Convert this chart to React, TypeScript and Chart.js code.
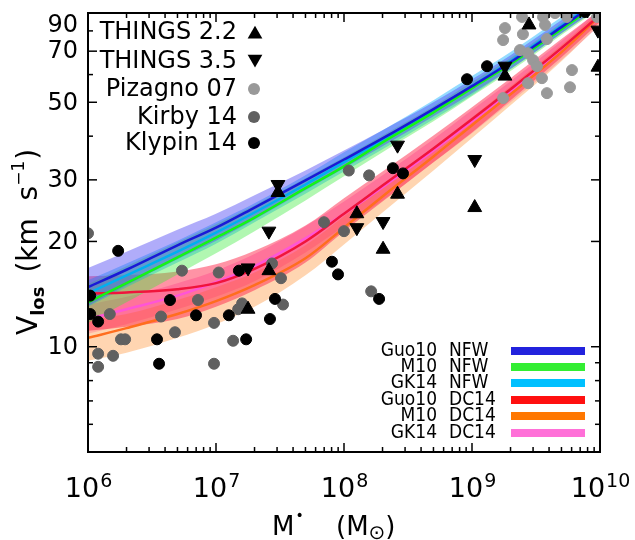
import { useEffect, useRef } from "react";
import { Chart, registerables } from "chart.js";
Chart.register(...registerables);

// ---------- model grid (stellar mass, Msun) ----------
const massGrid = [1e6, 2e6, 5e6, 1e7, 2e7, 5e7, 1e8, 2e8, 5e8, 1e9, 2e9, 5e9, 1e10];

// Guo10 NFW
const guoNfwMid = [14.8, 16.6, 19.5, 21.9, 25.0, 29.9, 34.3, 39.4, 47.8, 55.6, 65.1, 82.0, 98.0];
const guoNfwHi = [16.8, 18.7, 21.6, 24.0, 27.1, 31.9, 36.4, 41.6, 50.0, 58.2, 68.2, 85.9, 102.7];
const guoNfwLo = [13.1, 15.0, 17.8, 20.1, 23.1, 28.0, 32.4, 37.4, 45.6, 53.1, 62.2, 78.8, 93.6];
// M10 NFW
const m10NfwMid = [13.4, 15.2, 18.0, 20.5, 23.4, 28.4, 32.8, 38.4, 46.8, 54.9, 64.3, 80.9, 96.8];
const m10NfwHi = [15.1, 17.0, 19.9, 22.4, 25.4, 30.3, 34.8, 40.2, 48.7, 57.1, 66.9, 84.2, 100.7];
const m10NfwLo = [11.7, 13.4, 16.1, 18.5, 21.4, 26.2, 30.7, 36.0, 44.1, 52.0, 61.4, 77.8, 93.0];
// GK14 NFW
const gkNfwMid = [14.2, 16.0, 18.7, 21.2, 24.2, 29.1, 33.7, 38.9, 47.5, 55.6, 65.5, 82.6, 98.7];
const gkNfwHi = [15.5, 17.3, 20.1, 22.7, 25.7, 30.9, 36.0, 41.6, 50.7, 59.4, 69.6, 87.6, 104.0];
const gkNfwLo = [13.0, 14.8, 17.4, 19.7, 22.7, 27.4, 31.7, 36.7, 44.7, 52.4, 62.2, 78.8, 94.2];
// Guo10 DC14
const guoDcMid = [14.2, 14.3, 14.6, 15.2, 16.7, 20.0, 24.0, 28.9, 36.9, 44.7, 54.5, 71.4, 88.8];
const guoDcHi = [15.9, 16.0, 16.4, 17.2, 18.8, 22.2, 26.6, 31.7, 40.2, 48.4, 58.6, 75.8, 91.8];
const guoDcLo = [11.1, 11.4, 12.0, 13.0, 14.5, 17.4, 21.4, 26.0, 33.7, 41.0, 50.7, 67.3, 84.8];
// M10 DC14
const m10DcMid = [10.6, 11.3, 12.4, 13.5, 15.0, 17.9, 21.9, 26.9, 35.0, 43.0, 52.7, 69.6, 88.2];
const m10DcHi = [11.9, 12.4, 13.6, 14.8, 16.3, 19.5, 23.6, 28.6, 37.2, 45.3, 55.6, 72.9, 91.2];
const m10DcLo = [9.12, 9.61, 10.6, 11.6, 13.0, 16.0, 19.6, 24.2, 31.9, 39.5, 49.0, 65.5, 83.7];
// GK14 DC14
const gkDcMid = [12.0, 12.8, 14.0, 15.3, 17.0, 20.4, 24.0, 28.6, 36.4, 44.1, 53.8, 70.5, 87.6];
const gkDcHi = [13.2, 13.9, 15.2, 16.5, 18.4, 22.1, 26.0, 30.9, 39.2, 47.5, 57.4, 74.8, 92.4];
const gkDcLo = [10.9, 11.6, 12.8, 13.9, 15.4, 18.6, 22.1, 26.2, 33.7, 40.8, 50.0, 66.0, 83.2];

// ---------- observed galaxies ----------
const things22Mass = [1.78e7, 2.59e7, 3.05e7, 1.26e8, 2.02e8, 2.62e8, 1.05e9, 1.81e9, 2.79e9, 9.64e9];
const things22V = [12.8, 16.5, 27.6, 24.0, 19.0, 27.3, 25.0, 59.4, 83.2, 63.0];
const things35Mass = [1.78e7, 2.59e7, 3.05e7, 1.26e8, 2.02e8, 2.62e8, 1.05e9, 1.81e9, 9.64e9];
const things35V = [16.8, 21.4, 29.1, 21.9, 22.8, 37.7, 34.3, 63.4, 80.4];
const pizagnoMass = [1.75e9, 1.75e9, 1.81e9, 2.37e9, 2.46e9, 2.50e9, 2.74e9, 2.74e9, 3.0e9, 3.22e9, 3.52e9, 3.59e9, 3.72e9, 3.85e9, 3.85e9, 4.45e9, 5.52e9, 5.83e9, 6.04e9, 9.48e9];
const pizagnoV = [51.4, 75.3, 81.5, 70.5, 87.7, 78.3, 69.1, 56.7, 66.0, 63.4, 58.6, 87.7, 83.2, 75.8, 53.1, 90.0, 87.7, 55.2, 61.8, 87.7];
const kirbyMass = [1.0e6, 1.2e6, 1.2e6, 1.48e6, 1.57e6, 1.81e6, 1.95e6, 3.72e6, 4.78e6, 5.42e6, 7.23e6, 9.65e6, 9.65e6, 1.05e7, 1.36e7, 1.49e7, 1.6e7, 2.74e7, 3.22e7, 3.34e7, 6.98e7, 1.0e8, 1.09e8, 1.57e8, 1.63e8];
const kirbyV = [21.1, 9.55, 8.76, 12.4, 9.42, 10.5, 10.5, 12.2, 11.0, 16.5, 13.6, 11.7, 8.94, 16.3, 10.4, 12.8, 13.3, 17.3, 15.7, 13.2, 22.7, 21.4, 31.9, 30.9, 14.4];
const klypinMass = [1.04e6, 1.04e6, 1.2e6, 1.72e6, 3.46e6, 3.59e6, 4.37e6, 6.98e6, 1.26e7, 1.51e7, 1.72e7, 2.64e7, 2.89e7, 8.05e7, 8.98e7, 1.88e8, 2.41e8, 2.89e8, 9.14e8, 1.31e9, 7.64e9];
const klypinV = [14.0, 12.4, 11.8, 18.8, 10.5, 8.94, 13.6, 12.3, 12.3, 16.5, 10.5, 12.0, 13.7, 17.5, 16.1, 13.7, 32.4, 31.3, 58.2, 63.4, 90.6];

// ---------- axes ----------
const xMajorTicks = [1e6, 1e7, 1e8, 1e9, 1e10];
const xTickExponents = ["6", "7", "8", "9", "10"];
const yMajorTicks = [10, 20, 30, 50, 70, 90];
const yTickLabels = ["10", "20", "30", "50", "70", "90"];
const yMinorTicks = [6, 7, 8, 9, 40, 60, 80];

// ---------- legends ----------
const obsLegendLabels = ["THINGS 2.2", "THINGS 3.5", "Pizagno 07", "Kirby 14", "Klypin 14"];
const modelNames = ["Guo10", "M10", "GK14", "Guo10", "M10", "GK14"];
const profileNames = ["NFW", "NFW", "NFW", "DC14", "DC14", "DC14"];

const modelLineColors = ["rgb(25,25,215)", "rgb(20,245,20)", "rgb(0,175,240)", "rgb(240,20,60)", "rgb(255,110,30)", "rgb(255,85,215)"];
const modelFillColors = ["rgba(80,70,245,0.45)", "rgba(60,235,60,0.4)", "rgba(0,170,255,0.42)", "rgba(255,40,75,0.5)", "rgba(255,150,60,0.4)", "rgba(255,100,200,0.42)"];
const modelLegendColors = ["#2222dd", "#33ee33", "#00c0ff", "#ff1010", "#ff7700", "#ff70d8"];

const FONT = '"DejaVu Sans", sans-serif';
const COND = '"DejaVu Sans Condensed", "DejaVu Sans", sans-serif';

const pts = (xs: number[], ys: number[]) => xs.map((x, i) => ({ x, y: ys[i] }));

function tri(ctx: CanvasRenderingContext2D, x: number, cy: number, r: number, down: boolean) {
  const s = down ? -1 : 1;
  const y = cy + s * r / 4;
  ctx.beginPath();
  ctx.moveTo(x, y - s * r);
  ctx.lineTo(x + 0.866 * r, y + s * 0.5 * r);
  ctx.lineTo(x - 0.866 * r, y + s * 0.5 * r);
  ctx.closePath();
  ctx.fill();
}

const decor = {
  id: "decor",
  afterDraw(chart: any) {
    const { ctx, chartArea: a, scales } = chart;
    const xs = scales.x;
    const ys = scales.y;
    ctx.save();
    ctx.strokeStyle = "#000";
    ctx.lineWidth = 1.5;
    const line = (x1: number, y1: number, x2: number, y2: number) => {
      ctx.beginPath();
      ctx.moveTo(x1, y1);
      ctx.lineTo(x2, y2);
      ctx.stroke();
    };
    for (let d = 6; d <= 9; d++) {
      for (let k = 1; k <= 9; k++) {
        const px = xs.getPixelForValue(k * Math.pow(10, d));
        const len = k === 1 ? 9 : 5;
        line(px, a.bottom, px, a.bottom - len);
        line(px, a.top, px, a.top + len);
      }
    }
    yMajorTicks.forEach((v) => {
      const py = ys.getPixelForValue(v);
      line(a.left, py, a.left + 9, py);
      line(a.right, py, a.right - 9, py);
    });
    yMinorTicks.forEach((v) => {
      const py = ys.getPixelForValue(v);
      line(a.left, py, a.left + 5, py);
      line(a.right, py, a.right - 5, py);
    });
    ctx.lineWidth = 2;
    ctx.strokeRect(a.left, a.top, a.right - a.left, a.bottom - a.top);

    // y tick labels
    ctx.fillStyle = "#000";
    ctx.font = `24px ${FONT}`;
    ctx.textAlign = "right";
    ctx.textBaseline = "middle";
    yMajorTicks.forEach((v, i) => {
      const py = Math.max(ys.getPixelForValue(v), a.top + 12);
      ctx.fillText(yTickLabels[i], a.left - 10, py + 1);
    });
    // x tick labels
    ctx.textAlign = "left";
    ctx.textBaseline = "alphabetic";
    xMajorTicks.forEach((v, i) => {
      const px = xs.getPixelForValue(v);
      ctx.font = `27px ${FONT}`;
      const w1 = ctx.measureText("10").width;
      ctx.font = `19px ${FONT}`;
      const w2 = ctx.measureText(xTickExponents[i]).width;
      const x0 = px - (w1 + w2) / 2;
      ctx.font = `27px ${FONT}`;
      ctx.fillText("10", x0, 497);
      ctx.font = `19px ${FONT}`;
      ctx.fillText(xTickExponents[i], x0 + w1 + 1, 487);
    });

    // x title
    {
      let x = 272;
      const base = 535;
      ctx.font = `26px ${FONT}`;
      ctx.fillText("M", x, base);
      x += ctx.measureText("M").width + 1;
      ctx.font = `14px ${FONT}`;
      ctx.fillText("\u2022", x, base - 15);
      x = 336;
      ctx.font = `26px ${FONT}`;
      ctx.fillText("(M", x, base);
      x += ctx.measureText("(M").width;
      ctx.font = `20px ${FONT}`;
      ctx.fillText("\u2299", x, base + 4);
      x += ctx.measureText("\u2299").width;
      ctx.font = `26px ${FONT}`;
      ctx.fillText(")", x, base);
    }
    // y title
    {
      ctx.save();
      ctx.translate(37, 335);
      ctx.rotate(-Math.PI / 2);
      let x = 0;
      ctx.font = `28px ${FONT}`;
      ctx.fillText("V", x, 0);
      x += ctx.measureText("V").width;
      ctx.font = `bold 18px ${FONT}`;
      ctx.fillText("los", x, 7);
      x += ctx.measureText("los").width + 14;
      ctx.font = `28px ${FONT}`;
      ctx.fillText("(km  s", x, 0);
      x += ctx.measureText("(km  s").width;
      ctx.font = `17px ${FONT}`;
      ctx.fillText("\u22121", x, -13);
      x += ctx.measureText("\u22121").width + 1;
      ctx.font = `28px ${FONT}`;
      ctx.fillText(")", x, 0);
      ctx.restore();
    }

    // observation legend
    const rowY = [32, 61, 89, 117, 143];
    ctx.font = `24px ${FONT}`;
    ctx.textAlign = "right";
    ctx.textBaseline = "middle";
    ctx.fillStyle = "#000";
    obsLegendLabels.forEach((t, i) => ctx.fillText(t, 237, rowY[i] + 1));
    tri(ctx, 255, rowY[0], 8.5, false);
    tri(ctx, 255, rowY[1], 8.5, true);
    const circ = (y: number, c: string) => {
      ctx.fillStyle = c;
      ctx.beginPath();
      ctx.arc(254, y, 6, 0, Math.PI * 2);
      ctx.fill();
    };
    circ(rowY[2], "#999999");
    circ(rowY[3], "#606060");
    circ(rowY[4], "#000000");

    // model legend
    const mY = [351, 367, 383, 400, 416, 433];
    ctx.font = `19px ${COND}`;
    modelNames.forEach((n, i) => {
      ctx.fillStyle = "#000";
      ctx.textAlign = "right";
      ctx.fillText(n, 437, mY[i]);
      ctx.textAlign = "left";
      ctx.fillText(profileNames[i], 449, mY[i]);
      ctx.fillStyle = modelLegendColors[i];
      ctx.fillRect(511, mY[i] - 4, 74, 8);
    });
    ctx.restore();
  },
};

export default function App() {
  const ref = useRef<HTMLCanvasElement | null>(null);
  useEffect(() => {
    if (!ref.current) return;
    const bands = [
      [guoNfwLo, guoNfwHi, guoNfwMid],
      [m10NfwLo, m10NfwHi, m10NfwMid],
      [gkNfwLo, gkNfwHi, gkNfwMid],
      [guoDcLo, guoDcHi, guoDcMid],
      [m10DcLo, m10DcHi, m10DcMid],
      [gkDcLo, gkDcHi, gkDcMid],
    ];
    const datasets: any[] = [];
    const scat = (xs: number[], ys: number[], color: string, style: string, r: number, rot: number, order: number) => ({
      type: "scatter",
      data: pts(xs, ys),
      pointStyle: style,
      pointRadius: r,
      pointRotation: rot,
      backgroundColor: color,
      borderColor: color,
      borderWidth: 1,
      showLine: false,
      order,
      clip: 0,
    });
    datasets.push(scat(things22Mass, things22V, "#000", "triangle", 8, 0, 0));
    datasets.push(scat(things35Mass, things35V, "#000", "triangle", 8, 180, 0));
    datasets.push(scat(klypinMass, klypinV, "#000", "circle", 5.5, 0, 1));
    datasets.push(scat(kirbyMass, kirbyV, "#606060", "circle", 5.5, 0, 2));
    datasets.push(scat(pizagnoMass, pizagnoV, "#999999", "circle", 5.5, 0, 3));
    bands.forEach((b, i) => {
      const loIdx = datasets.length;
      datasets.push({
        type: "line",
        data: pts(massGrid, b[0]),
        borderColor: "transparent",
        borderWidth: 0,
        pointRadius: 0,
        fill: false,
        cubicInterpolationMode: "monotone",
        order: 10,
      });
      datasets.push({
        type: "line",
        data: pts(massGrid, b[1]),
        borderColor: "transparent",
        borderWidth: 0,
        pointRadius: 0,
        fill: loIdx,
        backgroundColor: modelFillColors[i],
        cubicInterpolationMode: "monotone",
        order: 10,
      });
    });
    bands.forEach((b, i) => {
      datasets.push({
        type: "line",
        data: pts(massGrid, b[2]),
        borderColor: modelLineColors[i],
        borderWidth: 2.5,
        pointRadius: 0,
        fill: false,
        cubicInterpolationMode: "monotone",
        order: 5,
      });
    });
    const chart = new Chart(ref.current, {
      type: "scatter",
      data: { datasets },
      options: {
        animation: false,
        responsive: false,
        events: [],
        layout: { padding: { left: 88, right: 35, top: 13, bottom: 88 } },
        scales: {
          x: { type: "logarithmic", min: 1e6, max: 1e10, display: false },
          y: { type: "logarithmic", min: 5, max: 90, display: false },
        },
        plugins: { legend: { display: false }, tooltip: { enabled: false } },
      },
      plugins: [decor],
    } as any);
    return () => chart.destroy();
  }, []);
  return (
    <div style={{ position: "fixed", left: 0, top: 0, width: 635, height: 540, background: "#fff" }}>
      <canvas ref={ref} width={635} height={540} />
    </div>
  );
}
